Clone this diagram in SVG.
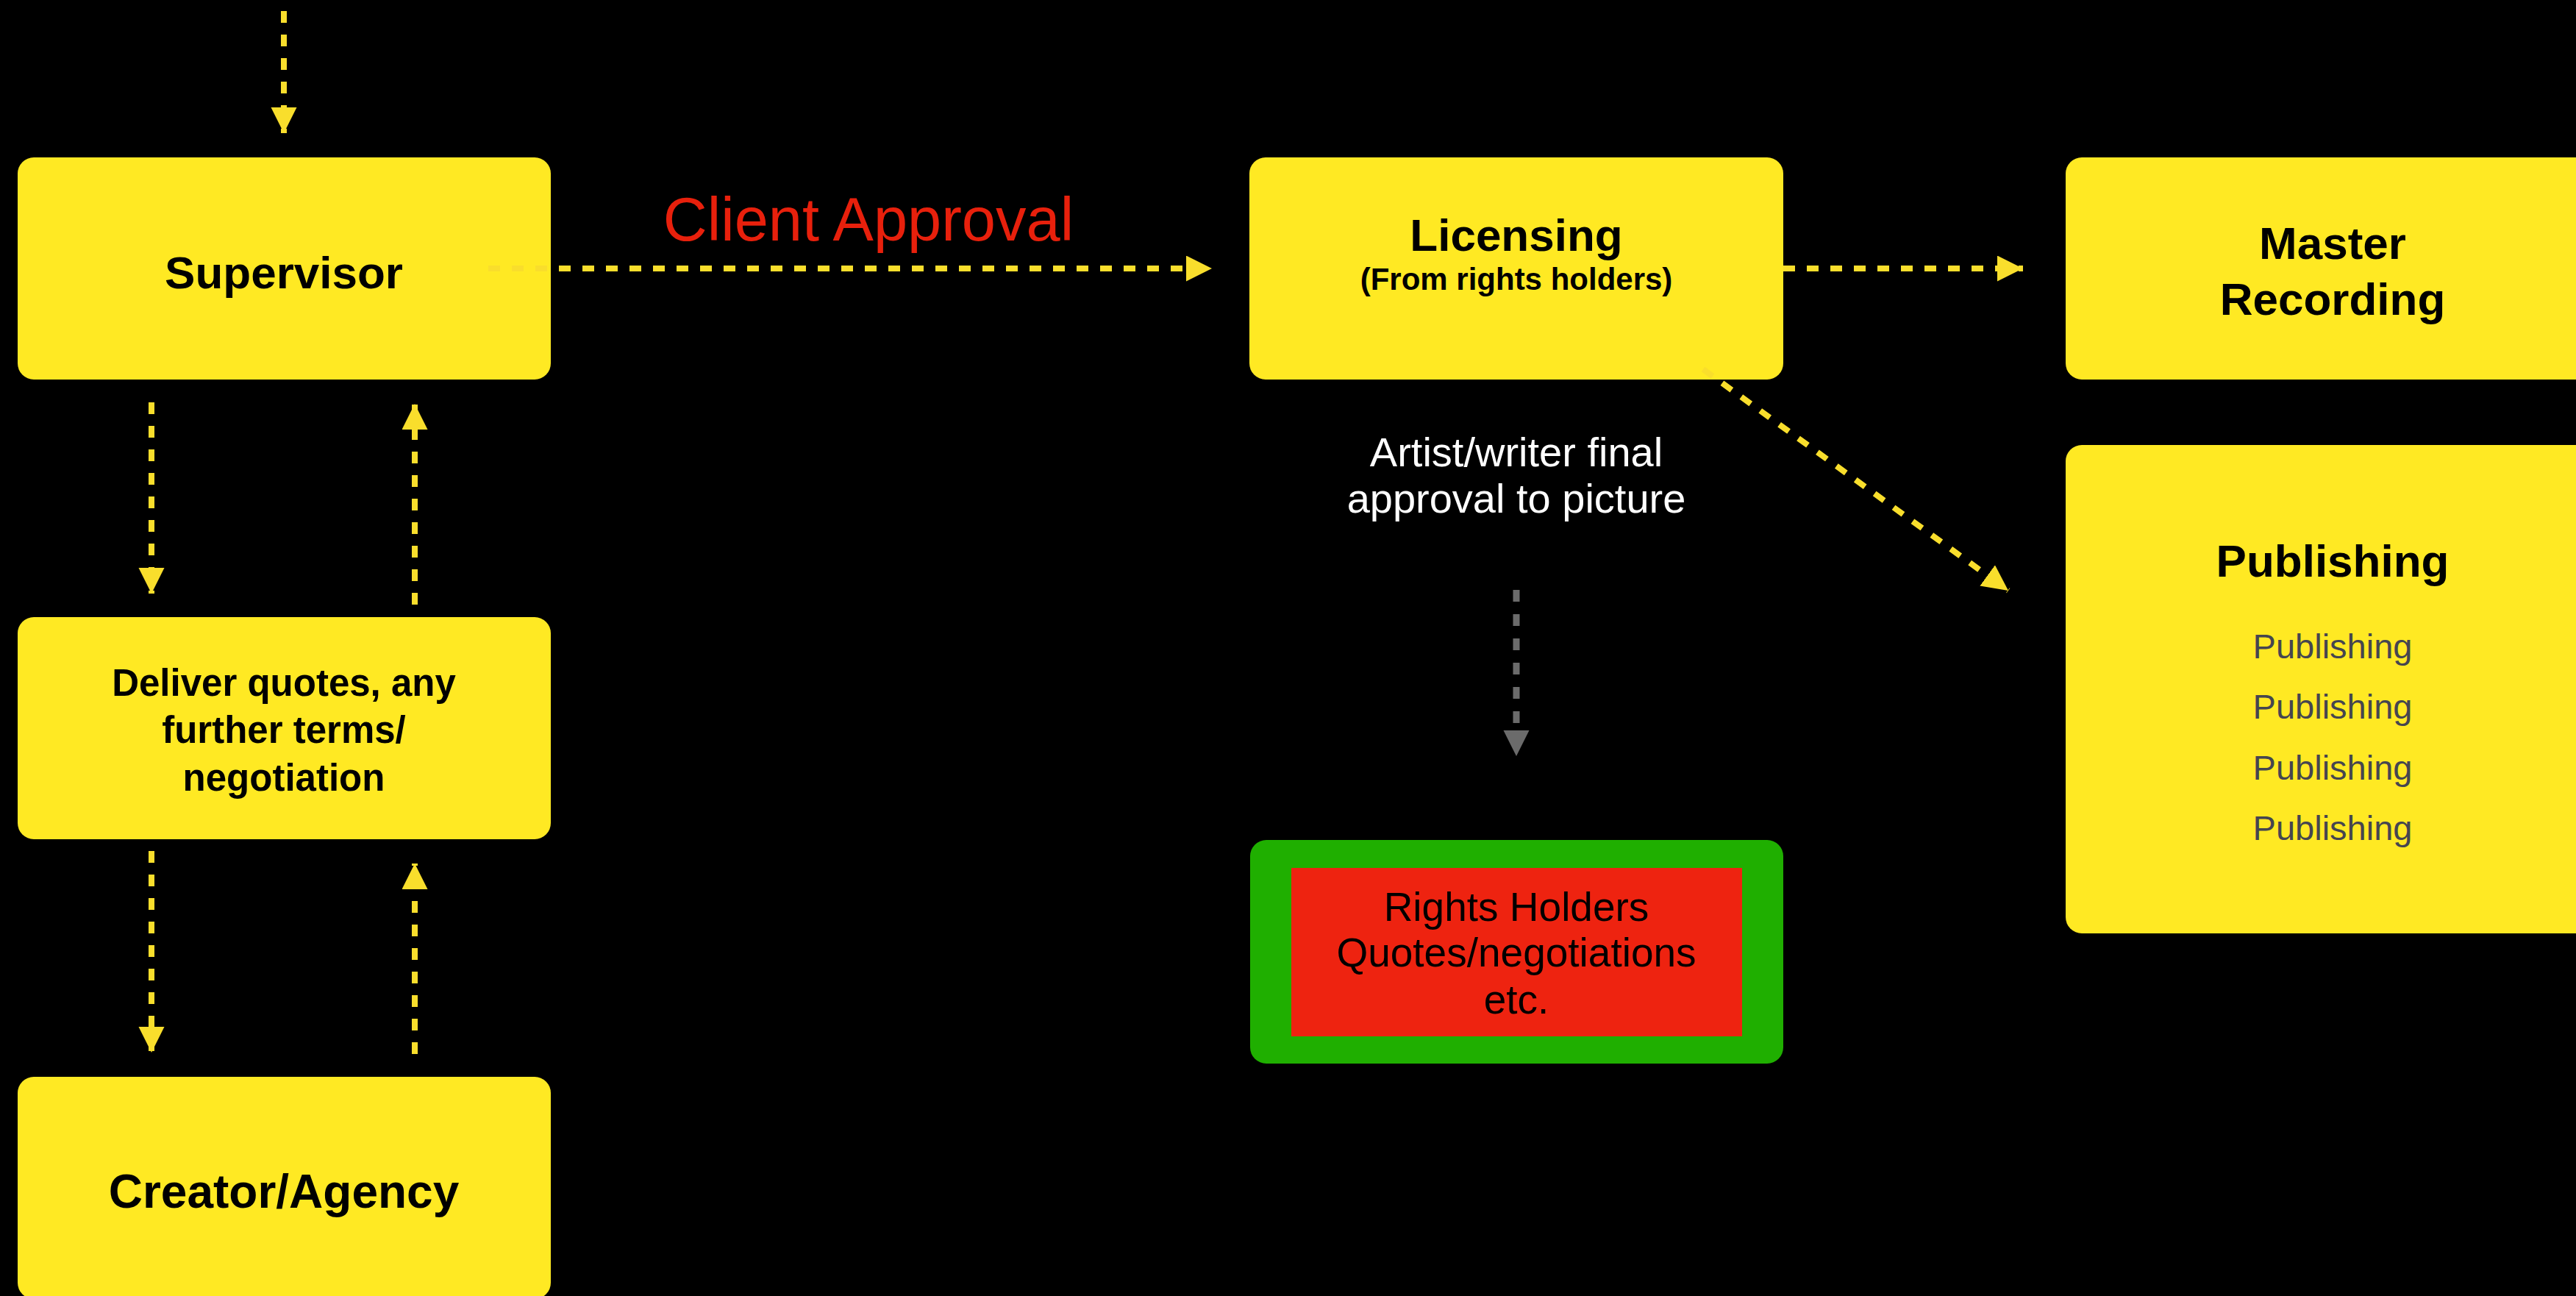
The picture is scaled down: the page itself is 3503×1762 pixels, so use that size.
<svg xmlns="http://www.w3.org/2000/svg" width="3503" height="1762" viewBox="0 0 3503 1762">
<style>
.box{fill:#FFE923}
.t{font-family:"Liberation Sans",Arial,sans-serif;text-anchor:middle}
.b{font-weight:bold;fill:#000}
.conn{fill:none;stroke:#F9DE2C;stroke-width:8;stroke-dasharray:16 16}
.gray{fill:none;stroke:#6B6B6B;stroke-width:9;stroke-dasharray:16 17}
</style>
<defs>
<marker id="ah" markerUnits="userSpaceOnUse" markerWidth="36" markerHeight="36" refX="35" refY="17.5" orient="auto">
<path d="M0,0 L35,17.5 L0,35 Z" fill="#F9DE2C"/>
</marker>
<marker id="ahg" markerUnits="userSpaceOnUse" markerWidth="36" markerHeight="36" refX="35" refY="17.5" orient="auto">
<path d="M0,0 L35,17.5 L0,35 Z" fill="#6B6B6B"/>
</marker>
</defs>
<rect width="3503" height="1762" fill="#000"/>

<g id="supervisor">
<rect class="box" x="24" y="214" width="725" height="302" rx="22"/>
<text class="t b" x="386" y="392" font-size="62">Supervisor</text>
</g>
<g id="deliver">
<rect class="box" x="24" y="839" width="725" height="302" rx="22"/>
<text class="t b" font-size="51"><tspan x="386" y="946">Deliver quotes, any</tspan><tspan x="386" y="1010">further terms/</tspan><tspan x="386" y="1075">negotiation</tspan></text>
</g>
<g id="creator">
<rect class="box" x="24" y="1464" width="725" height="302" rx="22"/>
<text class="t b" x="386" y="1642" font-size="64">Creator/Agency</text>
</g>
<g id="licensing">
<rect class="box" x="1699" y="214" width="726" height="302" rx="22"/>
<text class="t b" x="2062" y="341" font-size="62">Licensing</text>
<text class="t b" x="2062" y="394" font-size="42">(From rights holders)</text>
</g>
<g id="master">
<rect class="box" x="2809" y="214" width="726" height="302" rx="22"/>
<text class="t b" font-size="62"><tspan x="3172" y="352">Master</tspan><tspan x="3172" y="428">Recording</tspan></text>
</g>
<g id="publishing">
<rect class="box" x="2809" y="605" width="726" height="664" rx="22"/>
<text class="t b" x="3172" y="784" font-size="62">Publishing</text>
<text class="t" font-size="47" fill="#45454F"><tspan x="3172" y="895">Publishing</tspan><tspan x="3172" y="977">Publishing</tspan><tspan x="3172" y="1060">Publishing</tspan><tspan x="3172" y="1142">Publishing</tspan></text>
</g>
<g id="rights">
<rect x="1700" y="1142" width="725" height="304" rx="22" fill="#1FAF00"/>
<rect x="1756" y="1180" width="613" height="229" fill="#EE2310"/>
<text class="t" font-size="55" fill="#000"><tspan x="2062" y="1252">Rights Holders</tspan><tspan x="2062" y="1314">Quotes/negotiations</tspan><tspan x="2062" y="1378">etc.</tspan></text>
</g>
<g id="labels">
<text class="t" x="1181" y="327" font-size="83" fill="#E8200C">Client Approval</text>
<text class="t" font-size="56" fill="#FFFFFF"><tspan x="2062" y="634">Artist/writer final</tspan><tspan x="2062" y="697">approval to picture</tspan></text>
</g>

<g id="connectors">
<path class="conn" d="M386,15 L386,181" marker-end="url(#ah)"/>
<path class="conn" d="M664,365 L1648,365" marker-end="url(#ah)"/>
<path class="conn" d="M2425,365 L2751,365" marker-end="url(#ah)"/>
<path class="conn" d="M2316,502 L2731,803" marker-end="url(#ah)"/>
<path class="conn" d="M206,547 L206,807" marker-end="url(#ah)"/>
<path class="conn" d="M564,822 L564,549" marker-end="url(#ah)"/>
<path class="conn" d="M206,1157 L206,1431" marker-end="url(#ah)"/>
<path class="conn" d="M564,1433 L564,1174" marker-end="url(#ah)"/>
<path class="gray" d="M2062,802 L2062,1028" marker-end="url(#ahg)"/>
</g>
</svg>
